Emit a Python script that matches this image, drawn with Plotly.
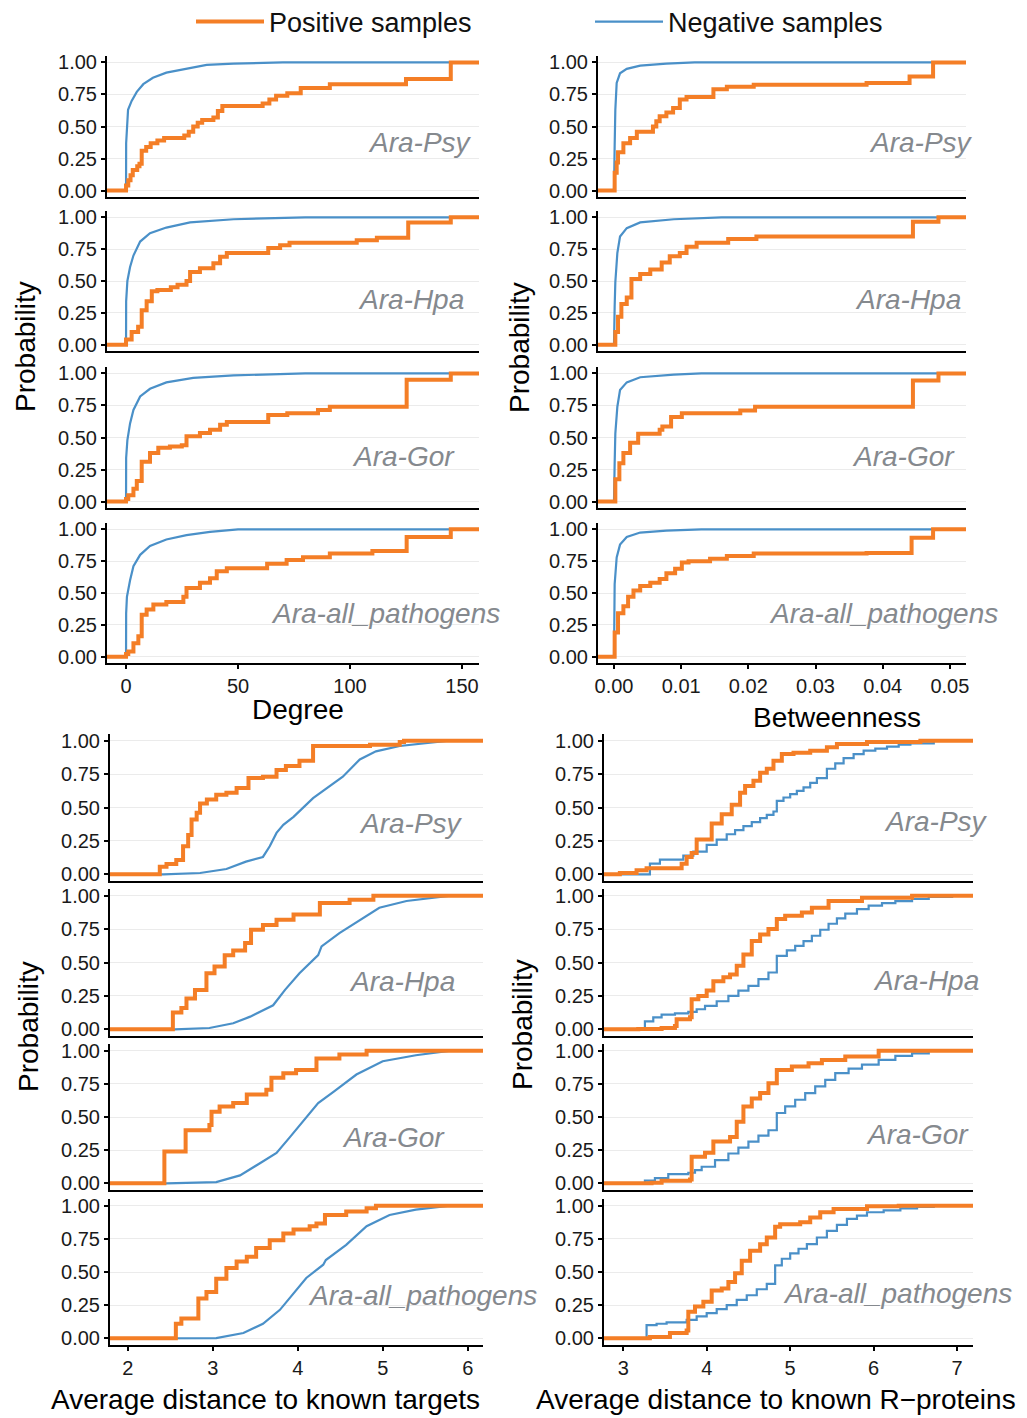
import plotly.graph_objects as go

# The page body adds an 8px margin, so the figure is drawn 8px smaller and all
# pixel geometry below (measured on the full 1027x1418 picture) is shifted by it.
PAGE_W, PAGE_H = 1027, 1418
OFF = 8
W, H = PAGE_W - OFF, PAGE_H - OFF
ORANGE = "#F47E26"
BLUE = "#4A90C8"
GREY = "#85898E"
FONT = "Liberation Sans, Arial, sans-serif"

ROW_NAMES = ["Ara-Psy", "Ara-Hpa", "Ara-Gor", "Ara-all_pathogens"]
SERIES_NAMES = ["Positive samples", "Negative samples"]

# ---------------- Degree ----------------
DEG_PSY_POS_X = [0, 1, 2, 3, 5, 6, 7, 9, 11, 14, 17, 26, 28, 30, 32, 34, 39, 41, 43, 61, 64, 67, 72, 78, 91, 125, 145]
DEG_PSY_POS_Y = [0.04, 0.08, 0.12, 0.16, 0.19, 0.21, 0.31, 0.34, 0.37, 0.39, 0.41, 0.43, 0.46, 0.50, 0.53, 0.55, 0.57, 0.62, 0.66, 0.68, 0.71, 0.74, 0.76, 0.80, 0.83, 0.87, 1.0]
DEG_PSY_NEG_X = [0, 0.05, 0.4, 0.9, 2.5, 4.8, 7.7, 12, 18, 27, 36, 48, 70]
DEG_PSY_NEG_Y = [0, 0.37, 0.50, 0.63, 0.70, 0.77, 0.83, 0.88, 0.92, 0.95, 0.98, 0.99, 1.0]

DEG_HPA_POS_X = [0, 2.5, 5.4, 7, 9.2, 11.5, 14, 20, 23, 27, 28.6, 33, 39, 42, 45, 63.5, 68.8, 73, 103, 112, 126, 145]
DEG_HPA_POS_Y = [0.04, 0.10, 0.14, 0.27, 0.34, 0.42, 0.43, 0.45, 0.47, 0.50, 0.57, 0.60, 0.64, 0.69, 0.72, 0.76, 0.78, 0.80, 0.82, 0.84, 0.96, 1.0]
DEG_HPA_NEG_X = [0, 0.05, 0.6, 1.8, 3.3, 6.3, 10.7, 18, 28.6, 48, 80]
DEG_HPA_NEG_Y = [0, 0.34, 0.50, 0.61, 0.70, 0.81, 0.875, 0.92, 0.96, 0.985, 1.0]

DEG_GOR_POS_X = [0, 1, 3.3, 4.8, 7, 10.7, 14.4, 19.6, 24.9, 27, 33, 37.5, 42, 45, 63.5, 72, 85.7, 91, 125.3, 145]
DEG_GOR_POS_Y = [0.02, 0.05, 0.10, 0.16, 0.31, 0.38, 0.42, 0.43, 0.44, 0.51, 0.535, 0.56, 0.60, 0.62, 0.675, 0.69, 0.715, 0.74, 0.95, 1.0]
DEG_GOR_NEG_X = [0, 0.05, 0.6, 1.8, 3.3, 6.3, 10.7, 18, 30, 48, 80]
DEG_GOR_NEG_Y = [0, 0.34, 0.48, 0.61, 0.715, 0.82, 0.88, 0.93, 0.965, 0.985, 1.0]

DEG_ALL_POS_X = [0, 1, 3.3, 5.5, 7, 9.2, 12.2, 18, 25.6, 27, 33, 37.5, 40.5, 45, 63, 71.7, 79, 91, 110, 125.3, 145]
DEG_ALL_POS_Y = [0.02, 0.04, 0.105, 0.16, 0.33, 0.37, 0.41, 0.43, 0.47, 0.54, 0.58, 0.615, 0.67, 0.695, 0.73, 0.76, 0.78, 0.81, 0.83, 0.94, 1.0]
DEG_ALL_NEG_X = [0, 0.05, 0.4, 1.8, 3.3, 6.3, 10.7, 18, 27, 37.5, 50]
DEG_ALL_NEG_Y = [0, 0.34, 0.47, 0.60, 0.71, 0.80, 0.87, 0.92, 0.955, 0.98, 1.0]

# ---------------- Betweenness ----------------
BTW_PSY_POS_X = [0.0001, 0.0004, 0.0006, 0.0014, 0.0024, 0.0034, 0.0058, 0.0063, 0.0068, 0.0078, 0.0088, 0.0098, 0.0108, 0.0148, 0.0168, 0.0208, 0.0376, 0.044, 0.0475]
BTW_PSY_POS_Y = [0.14, 0.22, 0.30, 0.37, 0.41, 0.46, 0.50, 0.54, 0.58, 0.61, 0.645, 0.71, 0.73, 0.79, 0.81, 0.825, 0.84, 0.89, 1.0]
BTW_PSY_NEG_X = [0, 0.0001, 0.0002, 0.0004, 0.0009, 0.0019, 0.0039, 0.0078, 0.012]
BTW_PSY_NEG_Y = [0, 0.35, 0.63, 0.84, 0.915, 0.95, 0.975, 0.99, 1.0]

BTW_HPA_POS_X = [0.0002, 0.0006, 0.0011, 0.0019, 0.0026, 0.0039, 0.0054, 0.0071, 0.0083, 0.0098, 0.0108, 0.0123, 0.017, 0.0212, 0.0445, 0.0483]
BTW_HPA_POS_Y = [0.10, 0.22, 0.32, 0.37, 0.515, 0.555, 0.59, 0.645, 0.695, 0.72, 0.77, 0.80, 0.83, 0.85, 0.965, 1.0]
BTW_HPA_NEG_X = [0, 0.0001, 0.0002, 0.0005, 0.0009, 0.0019, 0.0039, 0.0089, 0.016]
BTW_HPA_NEG_Y = [0, 0.30, 0.49, 0.72, 0.85, 0.915, 0.96, 0.985, 1.0]

BTW_GOR_POS_X = [0.0002, 0.0008, 0.0014, 0.0024, 0.0036, 0.0068, 0.0072, 0.0085, 0.0101, 0.0188, 0.021, 0.0445, 0.0483]
BTW_GOR_POS_Y = [0.175, 0.30, 0.38, 0.46, 0.53, 0.56, 0.585, 0.66, 0.69, 0.71, 0.74, 0.945, 1.0]
BTW_GOR_NEG_X = [0, 0.0001, 0.0002, 0.0005, 0.0009, 0.0019, 0.0039, 0.0089, 0.013]
BTW_GOR_NEG_Y = [0, 0.30, 0.53, 0.74, 0.87, 0.93, 0.97, 0.99, 1.0]

BTW_ALL_POS_X = [0.0001, 0.0006, 0.0014, 0.0021, 0.0029, 0.0039, 0.0054, 0.0068, 0.0078, 0.0091, 0.0101, 0.0111, 0.0143, 0.0168, 0.0208, 0.0376, 0.0443, 0.0475]
BTW_ALL_POS_Y = [0.19, 0.34, 0.395, 0.47, 0.52, 0.555, 0.58, 0.61, 0.655, 0.69, 0.74, 0.75, 0.77, 0.79, 0.81, 0.815, 0.935, 1.0]
BTW_ALL_NEG_X = [0, 0.0001, 0.0004, 0.0009, 0.0019, 0.0039, 0.0078, 0.013]
BTW_ALL_NEG_Y = [0, 0.57, 0.78, 0.88, 0.94, 0.975, 0.99, 1.0]

# ---------------- Average distance to known targets ----------------
TGT_PSY_POS_X = [2.376, 2.455, 2.57, 2.65, 2.71, 2.75, 2.81, 2.85, 2.93, 3.04, 3.16, 3.28, 3.42, 3.59, 3.75, 3.86, 4.02, 4.18, 4.85, 5.2, 5.25]
TGT_PSY_POS_Y = [0.057, 0.077, 0.107, 0.21, 0.295, 0.41, 0.46, 0.53, 0.56, 0.595, 0.61, 0.645, 0.72, 0.73, 0.78, 0.81, 0.85, 0.96, 0.97, 0.99, 1.0]
TGT_PSY_NEG_X = [2.42, 2.85, 3.16, 3.39, 3.59, 3.67, 3.75, 3.83, 3.95, 4.18, 4.38, 4.53, 4.73, 4.92, 5.2, 5.59, 5.78]
TGT_PSY_NEG_Y = [0, 0.01, 0.04, 0.095, 0.13, 0.21, 0.31, 0.37, 0.43, 0.57, 0.66, 0.73, 0.86, 0.92, 0.96, 0.99, 1.0]

TGT_HPA_POS_X = [2.53, 2.63, 2.69, 2.79, 2.925, 3.02, 3.14, 3.24, 3.38, 3.45, 3.59, 3.75, 3.95, 4.26, 4.61, 4.89]
TGT_HPA_POS_Y = [0.125, 0.16, 0.23, 0.295, 0.42, 0.47, 0.555, 0.59, 0.645, 0.745, 0.78, 0.82, 0.86, 0.945, 0.97, 1.0]
TGT_HPA_NEG_X = [2.55, 2.96, 3.24, 3.44, 3.71, 3.85, 4.02, 4.24, 4.28, 4.49, 4.73, 4.96, 5.28, 5.59, 5.8]
TGT_HPA_NEG_Y = [0, 0.01, 0.045, 0.095, 0.18, 0.295, 0.42, 0.555, 0.62, 0.72, 0.82, 0.91, 0.96, 0.985, 1.0]

TGT_GOR_POS_X = [2.43, 2.68, 2.96, 2.985, 3.08, 3.24, 3.40, 3.63, 3.69, 3.83, 3.98, 4.22, 4.49, 4.81]
TGT_GOR_POS_Y = [0.24, 0.40, 0.44, 0.54, 0.58, 0.605, 0.67, 0.705, 0.795, 0.83, 0.855, 0.94, 0.97, 1.0]
TGT_GOR_NEG_X = [2.455, 3.04, 3.32, 3.55, 3.75, 3.91, 4.10, 4.24, 4.42, 4.69, 5.0, 5.39, 5.8]
TGT_GOR_NEG_Y = [0, 0.01, 0.06, 0.15, 0.23, 0.35, 0.50, 0.605, 0.69, 0.82, 0.92, 0.965, 1.0]

TGT_ALL_POS_X = [2.565, 2.63, 2.83, 2.925, 3.04, 3.16, 3.28, 3.40, 3.51, 3.67, 3.83, 3.95, 4.14, 4.22, 4.32, 4.57, 4.81, 4.92]
TGT_ALL_POS_Y = [0.11, 0.15, 0.30, 0.35, 0.45, 0.53, 0.58, 0.615, 0.68, 0.74, 0.79, 0.82, 0.845, 0.865, 0.93, 0.955, 0.98, 1.0]
TGT_ALL_NEG_X = [2.59, 3.04, 3.36, 3.59, 3.79, 3.95, 4.10, 4.30, 4.33, 4.57, 4.81, 5.08, 5.39, 5.79]
TGT_ALL_NEG_Y = [0, 0.002, 0.04, 0.11, 0.215, 0.34, 0.455, 0.555, 0.59, 0.705, 0.845, 0.93, 0.97, 1.0]

# ---------------- Average distance to known R-proteins ----------------
RPR_PSY_POS_X = [2.96, 3.16, 3.28, 3.70, 3.76, 3.82, 3.88, 4.06, 4.18, 4.30, 4.40, 4.46, 4.56, 4.64, 4.72, 4.80, 4.90, 5.04, 5.24, 5.44, 5.56, 5.92, 6.56]
RPR_PSY_POS_Y = [0.01, 0.03, 0.045, 0.08, 0.13, 0.16, 0.26, 0.38, 0.45, 0.52, 0.61, 0.66, 0.70, 0.76, 0.79, 0.85, 0.90, 0.91, 0.925, 0.95, 0.975, 0.99, 1.0]
RPR_PSY_NEG_X = [3.24, 3.32, 3.44, 3.72, 3.84, 4.0, 4.12, 4.24, 4.34, 4.44, 4.54, 4.64, 4.72, 4.80, 4.84, 4.92, 5.0, 5.08, 5.16, 5.24, 5.32, 5.44, 5.54, 5.64, 5.76, 5.88, 6.02, 6.16, 6.30, 6.44, 6.72]
RPR_PSY_NEG_Y = [0, 0.08, 0.11, 0.14, 0.17, 0.22, 0.26, 0.30, 0.33, 0.36, 0.39, 0.42, 0.445, 0.47, 0.55, 0.575, 0.60, 0.625, 0.65, 0.685, 0.72, 0.79, 0.83, 0.87, 0.90, 0.925, 0.94, 0.955, 0.97, 0.98, 1.0]

RPR_HPA_POS_X = [3.18, 3.46, 3.62, 3.64, 3.80, 3.82, 3.90, 4.0, 4.08, 4.20, 4.28, 4.36, 4.44, 4.54, 4.64, 4.74, 4.84, 4.94, 5.14, 5.26, 5.46, 5.86, 6.46]
RPR_HPA_POS_Y = [0.003, 0.01, 0.025, 0.075, 0.09, 0.225, 0.25, 0.29, 0.36, 0.39, 0.41, 0.475, 0.56, 0.66, 0.71, 0.75, 0.825, 0.85, 0.875, 0.91, 0.96, 0.985, 1.0]
RPR_HPA_NEG_X = [3.14, 3.26, 3.36, 3.46, 3.62, 3.78, 3.88, 3.98, 4.12, 4.26, 4.38, 4.50, 4.62, 4.74, 4.84, 4.96, 5.06, 5.16, 5.26, 5.36, 5.46, 5.56, 5.66, 5.80, 5.94, 6.10, 6.26, 6.46, 6.66, 6.94]
RPR_HPA_NEG_Y = [0, 0.06, 0.09, 0.11, 0.12, 0.13, 0.15, 0.175, 0.21, 0.25, 0.29, 0.325, 0.375, 0.425, 0.55, 0.59, 0.625, 0.66, 0.70, 0.745, 0.79, 0.83, 0.865, 0.90, 0.925, 0.945, 0.96, 0.975, 0.99, 1.0]

RPR_GOR_POS_X = [3.34, 3.46, 3.80, 3.82, 3.98, 4.08, 4.28, 4.36, 4.44, 4.54, 4.64, 4.74, 4.84, 5.02, 5.22, 5.38, 5.66, 6.06]
RPR_GOR_POS_Y = [0.005, 0.02, 0.03, 0.20, 0.23, 0.315, 0.35, 0.465, 0.58, 0.64, 0.68, 0.755, 0.855, 0.88, 0.905, 0.93, 0.955, 1.0]
RPR_GOR_NEG_X = [3.14, 3.26, 3.38, 3.54, 3.78, 3.86, 3.94, 4.10, 4.26, 4.38, 4.50, 4.62, 4.74, 4.84, 4.94, 5.06, 5.18, 5.30, 5.42, 5.54, 5.70, 5.86, 6.06, 6.26, 6.46, 6.66]
RPR_GOR_NEG_Y = [0, 0.02, 0.04, 0.07, 0.08, 0.10, 0.125, 0.175, 0.225, 0.27, 0.315, 0.36, 0.40, 0.53, 0.58, 0.63, 0.68, 0.73, 0.78, 0.83, 0.865, 0.895, 0.93, 0.96, 0.98, 1.0]

RPR_ALL_POS_X = [3.32, 3.56, 3.76, 3.78, 3.86, 3.96, 4.06, 4.18, 4.26, 4.34, 4.42, 4.52, 4.64, 4.72, 4.82, 4.88, 5.12, 5.24, 5.36, 5.52, 5.92, 6.3]
RPR_ALL_POS_Y = [0.01, 0.04, 0.06, 0.20, 0.24, 0.275, 0.36, 0.375, 0.425, 0.49, 0.585, 0.66, 0.71, 0.76, 0.84, 0.86, 0.875, 0.91, 0.95, 0.975, 0.995, 1.0]
RPR_ALL_NEG_X = [3.16, 3.28, 3.40, 3.52, 3.76, 3.88, 4.0, 4.12, 4.24, 4.36, 4.48, 4.60, 4.72, 4.82, 4.90, 5.0, 5.10, 5.20, 5.32, 5.44, 5.56, 5.68, 5.80, 5.92, 6.12, 6.32, 6.52, 6.72]
RPR_ALL_NEG_Y = [0, 0.10, 0.11, 0.12, 0.14, 0.165, 0.19, 0.22, 0.25, 0.29, 0.325, 0.37, 0.41, 0.55, 0.60, 0.64, 0.675, 0.71, 0.76, 0.81, 0.855, 0.90, 0.925, 0.95, 0.965, 0.98, 0.99, 1.0]

Y_TICKS = [0, 0.25, 0.5, 0.75, 1.0]
DEG_TICKS = [0, 50, 100, 150]
BTW_TICKS = [0.0, 0.01, 0.02, 0.03, 0.04, 0.05]
TGT_TICKS = [2, 3, 4, 5, 6]
RPR_TICKS = [3, 4, 5, 6, 7]

DEG_SERIES = [(DEG_PSY_POS_X, DEG_PSY_POS_Y, DEG_PSY_NEG_X, DEG_PSY_NEG_Y),
              (DEG_HPA_POS_X, DEG_HPA_POS_Y, DEG_HPA_NEG_X, DEG_HPA_NEG_Y),
              (DEG_GOR_POS_X, DEG_GOR_POS_Y, DEG_GOR_NEG_X, DEG_GOR_NEG_Y),
              (DEG_ALL_POS_X, DEG_ALL_POS_Y, DEG_ALL_NEG_X, DEG_ALL_NEG_Y)]
BTW_SERIES = [(BTW_PSY_POS_X, BTW_PSY_POS_Y, BTW_PSY_NEG_X, BTW_PSY_NEG_Y),
              (BTW_HPA_POS_X, BTW_HPA_POS_Y, BTW_HPA_NEG_X, BTW_HPA_NEG_Y),
              (BTW_GOR_POS_X, BTW_GOR_POS_Y, BTW_GOR_NEG_X, BTW_GOR_NEG_Y),
              (BTW_ALL_POS_X, BTW_ALL_POS_Y, BTW_ALL_NEG_X, BTW_ALL_NEG_Y)]
TGT_SERIES = [(TGT_PSY_POS_X, TGT_PSY_POS_Y, TGT_PSY_NEG_X, TGT_PSY_NEG_Y),
              (TGT_HPA_POS_X, TGT_HPA_POS_Y, TGT_HPA_NEG_X, TGT_HPA_NEG_Y),
              (TGT_GOR_POS_X, TGT_GOR_POS_Y, TGT_GOR_NEG_X, TGT_GOR_NEG_Y),
              (TGT_ALL_POS_X, TGT_ALL_POS_Y, TGT_ALL_NEG_X, TGT_ALL_NEG_Y)]
RPR_SERIES = [(RPR_PSY_POS_X, RPR_PSY_POS_Y, RPR_PSY_NEG_X, RPR_PSY_NEG_Y),
              (RPR_HPA_POS_X, RPR_HPA_POS_Y, RPR_HPA_NEG_X, RPR_HPA_NEG_Y),
              (RPR_GOR_POS_X, RPR_GOR_POS_Y, RPR_GOR_NEG_X, RPR_GOR_NEG_Y),
              (RPR_ALL_POS_X, RPR_ALL_POS_Y, RPR_ALL_NEG_X, RPR_ALL_NEG_Y)]

# ---------------- layout (pixel geometry on the page) ----------------
TOP_ROWS = [(56, 197), (211, 351), (367, 508), (523, 663)]
BOT_ROWS = [(734, 881), (889, 1036), (1044, 1190), (1199, 1345)]

PANELS = [
    dict(series=DEG_SERIES, xdom=(107, 479), rows=TOP_ROWS, xrange=[-8.5, 157.6],
         ticks=DEG_TICKS, fmt="d", neg_shape="linear",
         labels=[(420, 143), (411, 300), (403, 456), (385, 613)]),
    dict(series=BTW_SERIES, xdom=(598, 966), rows=TOP_ROWS, xrange=[-0.00238, 0.0524],
         ticks=BTW_TICKS, fmt=".2f", neg_shape="linear",
         labels=[(921, 143), (908, 300), (903, 456), (883, 613)]),
    dict(series=TGT_SERIES, xdom=(110, 483), rows=BOT_ROWS, xrange=[1.79, 6.18],
         ticks=TGT_TICKS, fmt="d", neg_shape="linear",
         labels=[(411, 824), (402, 981), (393, 1137), (422, 1295)]),
    dict(series=RPR_SERIES, xdom=(604, 973), rows=BOT_ROWS, xrange=[2.77, 7.19],
         ticks=RPR_TICKS, fmt="d", neg_shape="hv",
         labels=[(936, 822), (926, 980), (917, 1134), (897, 1293)]),
]

AXIS_TITLES = [("Degree", 298, 710, 0), ("Betweenness", 837, 717, 0),
               ("Average distance to known targets", 265, 1399, 0),
               ("Average distance to known R\u2212proteins", 776, 1399, 0),
               ("Probability", 26, 347, -90), ("Probability", 520, 347, -90),
               ("Probability", 28, 1027, -90), ("Probability", 522, 1025, -90)]


def fx(p):
    return (p - OFF) / W


def fy(p):
    return 1 - (p - OFF) / H


fig = go.Figure()
layout = {}
annotations = []
n = 0
for panel in PANELS:
    x0, x1 = panel["xrange"]
    for r, (pos_x, pos_y, neg_x, neg_y) in enumerate(panel["series"]):
        n += 1
        xa = "x" if n == 1 else f"x{n}"
        ya = "y" if n == 1 else f"y{n}"
        bottom = r == 3
        top_px, bot_px = panel["rows"][r]
        layout["xaxis" if n == 1 else f"xaxis{n}"] = dict(
            domain=[fx(panel["xdom"][0]), fx(panel["xdom"][1])], anchor=ya,
            range=[x0, x1], showgrid=False, zeroline=False, automargin=False,
            showline=True, linecolor="black", linewidth=2,
            ticks="outside" if bottom else "", ticklen=4, tickwidth=1.5, tickcolor="black",
            showticklabels=bottom, tickvals=panel["ticks"], tickformat=panel["fmt"],
            tickfont=dict(size=20, color="#1a1a1a", family=FONT),
        )
        layout["yaxis" if n == 1 else f"yaxis{n}"] = dict(
            domain=[fy(bot_px), fy(top_px)], anchor=xa, automargin=False,
            range=[-0.05, 1.05], tickvals=Y_TICKS, tickformat=".2f",
            showgrid=True, gridcolor="#EBEBEB", gridwidth=1.2, zeroline=False,
            showline=True, linecolor="black", linewidth=2,
            ticks="outside", ticklen=4, tickwidth=1.5, tickcolor="black",
            tickfont=dict(size=20, color="#1a1a1a", family=FONT),
        )
        # ECDF padding to the panel limits (like stat_ecdf pad=TRUE)
        fig.add_trace(go.Scatter(
            x=[x0] + list(neg_x) + [x1], y=[0] + list(neg_y) + [1],
            mode="lines", line=dict(color=BLUE, width=2.2, shape=panel["neg_shape"]),
            name=SERIES_NAMES[1], legend="legend2", showlegend=(n == 1),
            xaxis=xa, yaxis=ya, hoverinfo="skip"))
        fig.add_trace(go.Scatter(
            x=[x0] + list(pos_x) + [x1], y=[0] + list(pos_y) + [1],
            mode="lines", line=dict(color=ORANGE, width=4, shape="hv"),
            name=SERIES_NAMES[0], legend="legend", showlegend=(n == 1),
            xaxis=xa, yaxis=ya, hoverinfo="skip"))
        lx, ly = panel["labels"][r]
        annotations.append(dict(
            text=ROW_NAMES[r], x=fx(lx), y=fy(ly), xref="paper", yref="paper",
            xanchor="center", yanchor="middle", showarrow=False,
            font=dict(size=28, color=GREY, family=FONT, style="italic")))

for text, px, py, ang in AXIS_TITLES:
    annotations.append(dict(
        text=text, x=fx(px), y=fy(py), xref="paper", yref="paper",
        xanchor="center", yanchor="middle", showarrow=False, textangle=ang,
        font=dict(size=28, color="black", family=FONT)))

legend_common = dict(orientation="h", yanchor="middle", y=fy(22), xanchor="left",
                     font=dict(size=27, color="#111111", family=FONT),
                     itemwidth=68, bgcolor="rgba(0,0,0,0)", borderwidth=0)

fig.update_layout(
    width=W, height=H,
    margin=dict(l=0, r=0, t=0, b=0, pad=0, autoexpand=False),
    paper_bgcolor="white", plot_bgcolor="white",
    font=dict(family=FONT, color="black"),
    legend=dict(x=fx(191), **legend_common),
    legend2=dict(x=fx(590), **legend_common),
    annotations=annotations,
    **layout,
)

fig.write_html("out.html")
